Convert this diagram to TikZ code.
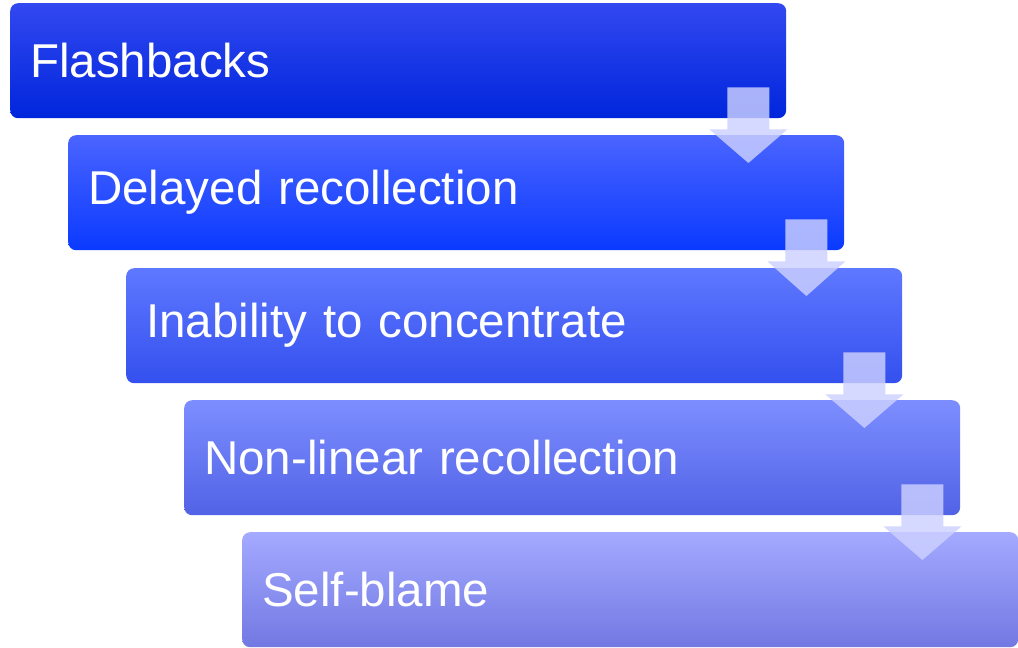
\documentclass[tikz,border=0pt]{standalone}
\usepackage{fontspec}
\setmainfont{Liberation Sans}
\usepackage{tikz}
\usetikzlibrary{calc, positioning}

\definecolor{boxAtop}{HTML}{3248F0}
\definecolor{boxAbot}{HTML}{0026DC}
\definecolor{boxBtop}{HTML}{4A64FF}
\definecolor{boxBbot}{HTML}{0A3AFF}
\definecolor{boxCtop}{HTML}{5E78FF}
\definecolor{boxCbot}{HTML}{3450EE}
\definecolor{boxDtop}{HTML}{7C8EFF}
\definecolor{boxDbot}{HTML}{5262E6}
\definecolor{boxEtop}{HTML}{A4AAFF}
\definecolor{boxEbot}{HTML}{7278E2}
\definecolor{flowfill}{HTML}{CDD1FF}

\tikzset{
    stage/.style={rounded corners=8pt, anchor=north west, minimum height=115pt,
        text width=736pt, inner xsep=20pt, align=left, text=white,
        font=\fontsize{47.5}{57}\selectfont},
    flow/.style={fill=flowfill, opacity=0.82}
}

\begin{document}
\begin{tikzpicture}[x=1pt, y=1pt]
    \useasboundingbox (0,0) rectangle (1018,-648);

    % Stages
    \node[stage, top color=boxAtop, bottom color=boxAbot] (b1) at (10,-3) {Flashbacks};
    \node[stage, top color=boxBtop, bottom color=boxBbot] (b2) at (68,-135) {Delayed recollection};
    \node[stage, top color=boxCtop, bottom color=boxCbot] (b3) at (126,-268) {Inability to concentrate};
    \node[stage, top color=boxDtop, bottom color=boxDbot] (b4) at (184,-400) {Non-linear recollection};
    \node[stage, top color=boxEtop, bottom color=boxEbot] (b5) at (242,-532) {Self-blame};

    % Down arrows
    \foreach \i/\j in {1/2, 2/3, 3/4, 4/5}
        \fill[flow] ($(b\i.south east)+(-59,31)$) -- ($(b\i.south east)+(-17,31)$)
            -- ($(b\i.south east)+(-17,-11)$) -- ($(b\i.south east)+(1,-11)$)
            -- ($(b\j.north east)+(-96,-28)$) -- ($(b\i.south east)+(-77,-11)$)
            -- ($(b\i.south east)+(-59,-11)$) -- cycle;

\end{tikzpicture}
\end{document}
